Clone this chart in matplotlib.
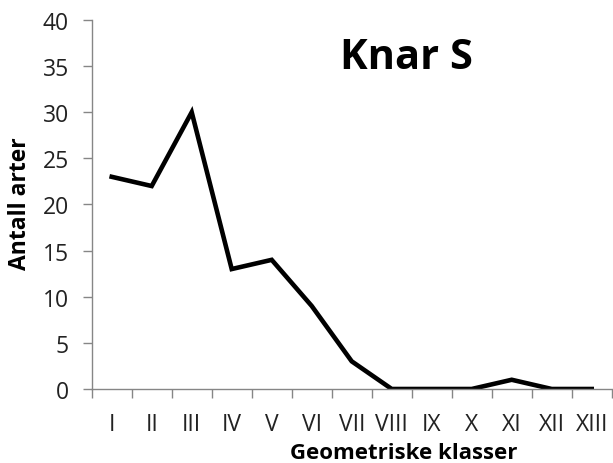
import numpy as np
import matplotlib
matplotlib.use("Agg")
import matplotlib.pyplot as plt

# Data
classes = ["I", "II", "III", "IV", "V", "VI", "VII", "VIII", "IX", "X", "XI", "XII", "XIII"]
antall_arter = [23, 22, 30, 13, 14, 9, 3, 0, 0, 0, 1, 0, 0]
y_ticks = [0, 5, 10, 15, 20, 25, 30, 35, 40]

plt.rcParams["font.family"] = ["Open Sans", "DejaVu Sans"]

axis_grey = "#868686"
text_col = "#222222"

fig = plt.figure(figsize=(6.13, 4.64), dpi=100)
ax = fig.add_axes([0.1496, 0.1595, 0.8483, 0.7953])

x = np.arange(len(classes))
ax.plot(x, antall_arter, color="black", linewidth=3.3, solid_joinstyle="miter")

ax.set_xlim(-0.5, len(classes) - 0.5)
ax.set_ylim(0, 40)

# boundaries get tick marks, centres get labels
ax.set_xticks(np.arange(len(classes) + 1) - 0.5)
ax.set_xticklabels([])
ax.set_xticks(x, minor=True)
ax.set_xticklabels(classes, minor=True)
ax.tick_params(axis="x", which="major", direction="out", length=6.5, width=1, color=axis_grey)
ax.tick_params(axis="x", which="minor", length=0, pad=16.5, labelsize=16.5, labelcolor=text_col)

ax.set_yticks(y_ticks)
ax.tick_params(axis="y", direction="out", length=6.5, width=1, color=axis_grey,
               pad=10, labelsize=16.5, labelcolor=text_col)

for side in ["top", "right"]:
    ax.spines[side].set_visible(False)
for side in ["left", "bottom"]:
    ax.spines[side].set_color(axis_grey)
    ax.spines[side].set_linewidth(1)

# x label sits right of centre in the original
fig.text(404 / 613, 1 - 454 / 464, "Geometriske klasser", fontsize=16, fontweight="bold",
         color="black", ha="center", va="center")
fig.text(20 / 613, 1 - 204 / 464, "Antall arter", fontsize=16.5, fontweight="bold",
         color="black", ha="center", va="center", rotation=90)

ax.text(0.605, 0.897, "Knar S", transform=ax.transAxes, fontsize=30,
        fontweight="bold", ha="center", va="center", color="black")

fig.savefig("out.png", dpi=100)
